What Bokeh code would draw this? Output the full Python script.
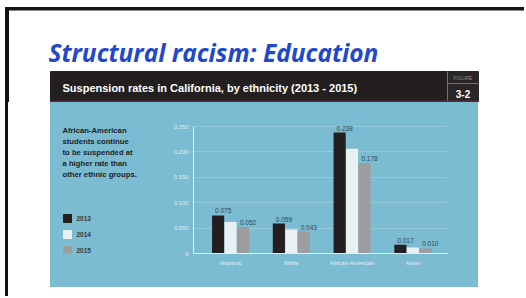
from bokeh.plotting import figure
from bokeh.models import Range1d, FixedTicker, NumeralTickFormatter, Spacer, Div
from bokeh.layouts import column, row
from bokeh.embed import file_html
from bokeh.resources import INLINE
from bokeh.core.properties import value

# ---------------- data ----------------
categories = ["Hispanic", "White", "African-American", "Asian"]
years = ["2013", "2014", "2015"]
rate_2013 = [0.075, 0.059, 0.238, 0.017]
rate_2014 = [0.062, 0.047, 0.206, 0.012]
rate_2015 = [0.052, 0.043, 0.178, 0.010]
labeled_years = ["2013", "2015"]
y_ticks = [0, 0.05, 0.10, 0.15, 0.20, 0.25]
y_tick_labels = ["0", "0.050", "0.100", "0.150", "0.200", "0.250"]
slide_title = "Structural racism: Education"
chart_title = "Suspension rates in California, by ethnicity (2013 - 2015)"
figure_word = "FIGURE"
figure_number = "3-2"
note_lines = ["African-American", "students continue", "to be suspended at",
              "a higher rate than", "other ethnic groups."]

# ---------------- styles ----------------
BLUE = "#7bbcd3"
DARK = "#231f20"
BAR_COLORS = [DARK, "#e9f1f4", "#9d9d9f"]
TITLE_BLUE = "#2148cc"
FONT = "Liberation Sans"
EDGE = "linear-gradient(to right, #ffffff 0px, #ffffff 5px, #141414 5px, #141414 8px, #ffffff 8px)"

FRAME_TOP, FRAME_BOTTOM = 118, 253      # page y of chart frame
PANEL_TOP, PANEL_BOTTOM = 102, 287      # page y of blue panel


def deco(x0, x1, ytop, ybot, fill="white", mb_top=0, mb_bottom=0):
    f = figure(width=x1 - x0, height=ybot - ytop + mb_top + mb_bottom,
               x_range=Range1d(x0, x1), y_range=Range1d(ybot, ytop),
               toolbar_location=None, output_backend="svg", min_border=0,
               min_border_top=mb_top, min_border_bottom=mb_bottom,
               x_axis_location=None, y_axis_location=None,
               background_fill_color=fill, border_fill_color=fill,
               outline_line_color=None, styles={"background-color": fill})
    f.grid.visible = False
    return f


# ---- top part: slide frame, title, header band (page coords) ----
top = deco(0, 524, 0, 102)
top.quad(left=[5], right=[524], top=[7], bottom=[9.5], color="#141414")
top.quad(left=[5], right=[8], top=[7], bottom=[102], color="#141414")
top.text(x=[48], y=[52], text=[slide_title], text_font=value("Open Sans"),
         text_font_style="bold italic", text_font_size="24.5px",
         text_color=TITLE_BLUE, text_baseline="middle")
top.quad(left=[50], right=[447], top=[71], bottom=[101], color=DARK)
top.quad(left=[447], right=[478], top=[71], bottom=[101], color="#2a2627")
top.segment(x0=[447], y0=[71], x1=[447], y1=[101], line_color="#707070", line_width=1)
top.segment(x0=[447], y0=[83], x1=[478], y1=[83], line_color="#707070", line_width=1)
top.quad(left=[50], right=[478], top=[100.5], bottom=[102], color="#5a2a3a")
top.text(x=[62], y=[87], text=[chart_title], text_font=value(FONT),
         text_font_style="bold", text_font_size="11px", text_color="white",
         text_baseline="middle")
top.text(x=[462.5], y=[77], text=[figure_word], text_font=value(FONT),
         text_font_size="5px", text_color="#8c8c8c", text_align="center",
         text_baseline="middle")
top.text(x=[462.5], y=[93], text=[figure_number], text_font=value(FONT),
         text_font_style="bold", text_font_size="10px", text_color="white",
         text_align="center", text_baseline="middle")

# ---- left blue panel: note + legend ----
mb_t = FRAME_TOP - PANEL_TOP
mb_b = PANEL_BOTTOM - FRAME_BOTTOM
left = deco(50, 160, FRAME_TOP, FRAME_BOTTOM, BLUE, mb_t, mb_b)
note_y = [130, 141, 152, 163, 174]
for txt, yy in zip(note_lines, note_y):
    left.text(x=[62], y=[yy], text=[txt], text_font=value(FONT),
              text_font_style="bold", text_font_size="7.7px",
              text_color="#1e1e1e", text_baseline="middle")
leg_y = [218 + 16 * i for i in range(len(years))]
left.rect(x=[67] * len(years), y=leg_y, width=8, height=8, color=BAR_COLORS)
left.text(x=[76] * len(years), y=leg_y, text=years, text_font=value(FONT),
          text_font_style="bold", text_font_size="6.5px", text_color="#3a3a3a",
          text_baseline="middle")

# ---- chart ----
px_per_unit = (FRAME_BOTTOM - 126) / y_ticks[-1]
y_end = y_ticks[-1] + (126 - FRAME_TOP) / px_per_unit
chart = figure(width=318, height=PANEL_BOTTOM - PANEL_TOP,
               x_range=Range1d(-0.11, 4.07), y_range=Range1d(0, y_end),
               toolbar_location=None, output_backend="svg",
               min_border_left=33, min_border_right=31,
               min_border_top=mb_t, min_border_bottom=mb_b,
               background_fill_color=BLUE, border_fill_color=BLUE,
               outline_line_color=None, styles={"background-color": BLUE})
series = [rate_2013, rate_2014, rate_2015]
centers = [i + 0.5 for i in range(len(categories))]
for j, (yr, vals, col) in enumerate(zip(years, series, BAR_COLORS)):
    xs = [c + (j - 1) * 0.205 for c in centers]
    chart.vbar(x=xs, top=vals, width=0.2, color=col, line_color=None)
    if yr in labeled_years:
        chart.text(x=xs, y=vals, text=[f"{v:.3f}" for v in vals],
                   text_font=value(FONT), text_font_size="6.5px",
                   text_color="#2f4653", text_align="center",
                   text_baseline="bottom", y_offset=-2, x_offset=5)

chart.yaxis.ticker = FixedTicker(ticks=y_ticks)
chart.yaxis.formatter = NumeralTickFormatter(format="0.000")
chart.yaxis.major_label_overrides = {0: y_tick_labels[0]}
chart.yaxis.bounds = (y_ticks[0], y_ticks[-1])
chart.xaxis.ticker = FixedTicker(ticks=centers)
chart.xaxis.major_label_overrides = {c: n for c, n in zip(centers, categories)}
for ax in (chart.xaxis, chart.yaxis):
    ax.axis_line_color = "#e4eff4"
    ax.axis_line_width = 1
    ax.major_tick_line_color = None
    ax.minor_tick_line_color = None
    ax.major_tick_out = 0
    ax.major_tick_in = 0
    ax.major_label_text_font = FONT
    ax.major_label_text_font_size = "5.8px"
    ax.major_label_text_color = "#e2eef3"
chart.yaxis.major_label_standoff = 5
chart.xaxis.major_label_standoff = 6
chart.xgrid.visible = False
chart.ygrid.ticker = FixedTicker(ticks=y_ticks)
chart.ygrid.grid_line_color = "#93c9dc"

edge = Div(text="", width=50, height=PANEL_BOTTOM - PANEL_TOP, margin=0,
           styles={"background": EDGE})
bottom = Div(text="", width=524, height=9, margin=0, styles={"background": EDGE})

page = column(top,
              row(edge, left, chart, Spacer(width=46, height=PANEL_BOTTOM - PANEL_TOP)),
              bottom)

open("out.html", "w").write(file_html(page, INLINE))
